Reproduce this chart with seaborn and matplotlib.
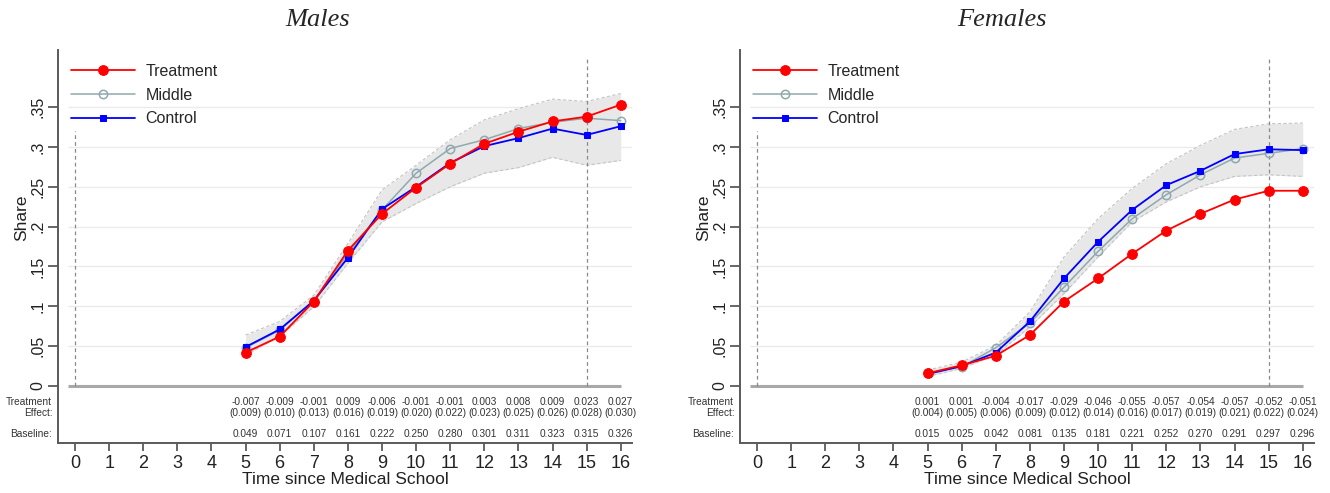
import numpy as np
import pandas as pd
import matplotlib
matplotlib.use("Agg")
import matplotlib.pyplot as plt
import seaborn as sns

# years since medical school with observations
years = [5, 6, 7, 8, 9, 10, 11, 12, 13, 14, 15, 16]
xticks = list(range(0, 17))
yticks = [0, 0.05, 0.1, 0.15, 0.2, 0.25, 0.3, 0.35]
ytick_labels = ["0", ".05", ".1", ".15", ".2", ".25", ".3", ".35"]

# males
male_treatment = [0.042, 0.062, 0.106, 0.170, 0.216, 0.249, 0.279, 0.304, 0.319, 0.332, 0.338, 0.353]
male_middle = [0.048, 0.070, 0.107, 0.166, 0.221, 0.267, 0.298, 0.309, 0.323, 0.331, 0.336, 0.333]
male_control = [0.049, 0.071, 0.107, 0.161, 0.222, 0.250, 0.280, 0.301, 0.311, 0.323, 0.315, 0.326]
male_ci_lo = [0.039, 0.062, 0.0995, 0.154, 0.206, 0.229, 0.250, 0.267, 0.274, 0.287, 0.277, 0.283]
male_ci_hi = [0.064, 0.081, 0.114, 0.179, 0.246, 0.277, 0.309, 0.334, 0.348, 0.360, 0.357, 0.367]
male_effect = [-0.007, -0.009, -0.001, 0.009, -0.006, -0.001, -0.001, 0.003, 0.008, 0.009, 0.023, 0.027]
male_se = [0.009, 0.010, 0.013, 0.016, 0.019, 0.020, 0.022, 0.023, 0.025, 0.026, 0.028, 0.030]

# females
female_treatment = [0.016, 0.026, 0.038, 0.064, 0.106, 0.135, 0.166, 0.195, 0.216, 0.234, 0.245, 0.245]
female_middle = [0.016, 0.024, 0.048, 0.079, 0.124, 0.169, 0.210, 0.240, 0.265, 0.286, 0.292, 0.298]
female_control = [0.015, 0.025, 0.042, 0.081, 0.135, 0.181, 0.221, 0.252, 0.270, 0.291, 0.297, 0.296]
female_ci_lo = [0.012, 0.022, 0.039, 0.074, 0.116, 0.162, 0.206, 0.231, 0.250, 0.263, 0.265, 0.263]
female_ci_hi = [0.020, 0.030, 0.051, 0.093, 0.162, 0.210, 0.248, 0.279, 0.302, 0.322, 0.329, 0.330]
female_effect = [0.001, 0.001, -0.004, -0.017, -0.029, -0.046, -0.055, -0.057, -0.054, -0.057, -0.052, -0.051]
female_se = [0.004, 0.005, 0.006, 0.009, 0.012, 0.014, 0.016, 0.017, 0.019, 0.021, 0.022, 0.024]

RED = "#ff0000"
MID = "#8fa9ae"
BLUE = "#0000ff"
AXCOL = "#5a5a5a"
TXT = "#333333"

sns.set_style("white")
plt.rcParams["font.family"] = ["Liberation Sans", "DejaVu Sans"]


def draw_panel(ax, treat, middle, control, lo, hi, effect, se):
    # confidence band around the control group
    ax.fill_between(years, lo, hi, color="#e8e8e8", linewidth=0, zorder=1)
    ax.plot(years, lo, color="#c4c4c4", lw=0.8, ls=(0, (3, 2)), zorder=1.5)
    ax.plot(years, hi, color="#c4c4c4", lw=0.8, ls=(0, (3, 2)), zorder=1.5)

    for y in yticks[1:]:
        ax.hlines(y, -0.2, 16.33, color="#ebebeb", lw=1, zorder=0.5)
    ax.hlines(0, -0.2, 16, color="#a8a8a8", lw=2.2, zorder=2)
    ax.vlines(0, 0, 0.32, color="#8a8a8a", lw=0.9, ls=(0, (3, 2.5)), zorder=2)
    ax.vlines(15, 0, 0.41, color="#8a8a8a", lw=0.9, ls=(0, (3, 2.5)), zorder=2)

    sns.lineplot(x=years, y=middle, ax=ax, color=MID, lw=1.1, marker="o",
                 markersize=6, markerfacecolor="none", markeredgecolor=MID,
                 markeredgewidth=1.1, zorder=3)
    sns.lineplot(x=years, y=control, ax=ax, color=BLUE, lw=1.3, marker="s",
                 markersize=5, markerfacecolor=BLUE, markeredgecolor=BLUE,
                 zorder=4)
    sns.lineplot(x=years, y=treat, ax=ax, color=RED, lw=1.3, marker="o",
                 markersize=7, markerfacecolor=RED, markeredgecolor=RED,
                 zorder=5)
    lines = ax.get_lines()
    handles = [lines[-1], lines[-3], lines[-2]]
    ax.legend(handles, ["Treatment", "Middle", "Control"], loc="upper left",
              bbox_to_anchor=(0.022, 0.965), frameon=False, fontsize=11.5,
              handlelength=4.0, handletextpad=0.7, labelspacing=0.55,
              borderpad=0, borderaxespad=0)

    # table of effects under the zero line
    for x, e, s, b in zip(years, effect, se, control):
        ax.text(x, -0.020, f"{e:.3f}", ha="center", va="center", fontsize=7.3, color=TXT)
        ax.text(x, -0.034, f"({s:.3f})", ha="center", va="center", fontsize=7.3, color=TXT)
        ax.text(x, -0.060, f"{b:.3f}", ha="center", va="center", fontsize=7.3, color=TXT)
    tr = ax.get_yaxis_transform()
    ax.text(-0.01, -0.027, "Treatment\nEffect:", transform=tr, ha="right",
            va="center", fontsize=7.3, color=TXT, multialignment="right",
            linespacing=1.15)
    ax.text(-0.01, -0.060, "Baseline:", transform=tr, ha="right",
            va="center", fontsize=7.3, color=TXT)

    ax.set_xlim(-0.5, 16.33)
    ax.set_ylim(-0.0715, 0.4216)
    ax.set_xticks(xticks)
    ax.set_xticklabels([str(t) for t in xticks], fontsize=13)
    ax.set_yticks(yticks)
    ax.set_yticklabels(ytick_labels, fontsize=11.5, rotation=90, va="center")
    ax.tick_params(axis="x", bottom=True, direction="out", length=6, width=1.3,
                   color=AXCOL, pad=3, labelcolor="#222222")
    ax.tick_params(axis="y", left=True, direction="out", length=7, width=1.3,
                   color=AXCOL, pad=2, labelcolor="#222222")
    ax.set_xlabel("Time since Medical School", fontsize=12.5, color="#222222", labelpad=0)
    ax.set_ylabel("Share", fontsize=12.5, color="#222222")
    ax.yaxis.set_label_coords(-0.05, 0.5 + 0.0715 / 0.4931 * 0.5)
    for side in ["top", "right"]:
        ax.spines[side].set_visible(False)
    for side in ["left", "bottom"]:
        ax.spines[side].set_color(AXCOL)
        ax.spines[side].set_linewidth(1.4)


fig = plt.figure(figsize=(13.3, 4.93), dpi=100)
ax1 = fig.add_axes([58 / 1330, 1 - 443 / 493, 574 / 1330, 393 / 493])
ax2 = fig.add_axes([740 / 1330, 1 - 443 / 493, 574 / 1330, 393 / 493])

draw_panel(ax1, male_treatment, male_middle, male_control, male_ci_lo,
           male_ci_hi, male_effect, male_se)
draw_panel(ax2, female_treatment, female_middle, female_control, female_ci_lo,
           female_ci_hi, female_effect, female_se)

fig.text(318 / 1330, 1 - 26 / 493, "Males", ha="center", va="baseline",
         fontsize=19, style="italic", family="Liberation Serif")
fig.text(1002 / 1330, 1 - 26 / 493, "Females", ha="center", va="baseline",
         fontsize=19, style="italic", family="Liberation Serif")

fig.savefig("out.png", dpi=100, facecolor="white")
